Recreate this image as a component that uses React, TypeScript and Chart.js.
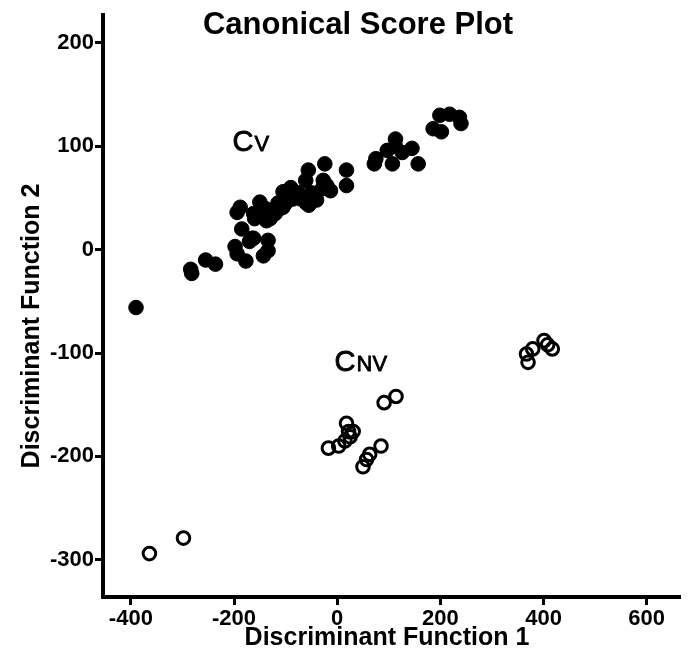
import React, { useEffect, useRef } from "react";
import { Chart, registerables } from "chart.js";

Chart.register(...registerables);

// Cv group (filled circles)
const cvX = [-390, -284, -282, -255, -236, -198, -194, -194, -188, -185, -177, -162, -160, -150, -143, -134, -134, -137, -124, -105, -105, -90, -86, -70, -56, -61, -55, -42, -29, -24, -27, -13, 18, 18, 72, 75, 107, 157, 97, 113, 126, 145, 113, 186, 202, 199, 218, 237, 240, -162, -120, -110, -100, -80, -60, -50, -40, -140, -150, -130, -95, -75, -20, -170, -115, -165];
const cvY = [-56, -19, -23, -10, -14, 3, -4, 36, 41, 20, -11, 11, 30, 46, -6, 9, -1, 28, 38, 41, 56, 60, 49, 49, 77, 67, 43, 52, 59, 83, 67, 57, 77, 62, 83, 88, 83, 83, 96, 107, 94, 98, 100, 117, 114, 130, 131, 128, 122, 35, 35, 40, 45, 52, 45, 55, 48, 40, 33, 30, 48, 55, 62, 8, 45, 11];

// CNV group (open circles)
const cnvX = [91, 114, 18, 31, 25, 15, 3, -17, 85, 63, 57, 50, 22, 367, 370, 379, 401, 408, 417, -364, -298];
const cnvY = [-148, -142, -168, -176, -181, -185, -190, -192, -190, -198, -203, -210, -176, -101, -109, -96, -88, -92, -96, -294, -279];

const xTicks = [-400, -200, 0, 200, 400, 600];
const yTicks = [-300, -200, -100, 0, 100, 200];

const chartTitle = "Canonical Score Plot";
const xTitle = "Discriminant Function 1";
const yTitle = "Discriminant Function 2";

const FONT = "'Liberation Sans', Arial, sans-serif";

const textPlugin = {
  id: "textPlugin",
  afterDraw(chart: any) {
    const ctx = chart.ctx;
    const xs = chart.scales.x;
    const ys = chart.scales.y;
    ctx.save();
    ctx.fillStyle = "#000";
    ctx.textBaseline = "alphabetic";
    // title
    ctx.font = `bold 31px ${FONT}`;
    ctx.textAlign = "center";
    ctx.fillText(chartTitle, 358, 34);
    // x title
    ctx.font = `bold 25px ${FONT}`;
    ctx.fillText(xTitle, 387, 645);
    // y title
    ctx.save();
    ctx.translate(39, 326);
    ctx.rotate(-Math.PI / 2);
    ctx.fillText(yTitle, 0, 0);
    ctx.restore();
    // group labels
    ctx.textAlign = "left";
    const drawLabel = (big: string, small: string, dx: number, dy: number) => {
      const px = xs.getPixelForValue(dx);
      const py = ys.getPixelForValue(dy);
      ctx.font = `29px ${FONT}`;
      ctx.fillText(big, px, py);
      ctx.lineWidth = 0.8;
      ctx.strokeStyle = "#000";
      ctx.strokeText(big, px, py);
      const w = ctx.measureText(big).width;
      ctx.font = `22px ${FONT}`;
      ctx.fillText(small, px + w + 1, py);
      ctx.strokeText(small, px + w + 1, py);
    };
    drawLabel("C", "V", -203, 95);
    drawLabel("C", "NV", -5, -117);
    ctx.restore();
  },
};

export default function App() {
  const ref = useRef<HTMLCanvasElement>(null);
  useEffect(() => {
    if (!ref.current) return;
    const cv = cvX.map((x, i) => ({ x, y: cvY[i] }));
    const cnv = cnvX.map((x, i) => ({ x, y: cnvY[i] }));
    const tickFont = { family: FONT, size: 22, weight: "bold" as const };
    const chart = new Chart(ref.current, {
      type: "scatter",
      data: {
        datasets: [
          {
            label: "Cv",
            data: cv,
            pointRadius: 7.3,
            pointBackgroundColor: "#000",
            pointBorderColor: "#000",
            pointBorderWidth: 1,
          },
          {
            label: "CNV",
            data: cnv,
            pointRadius: 6.3,
            pointBackgroundColor: "rgba(0,0,0,0)",
            pointBorderColor: "#000",
            pointBorderWidth: 3,
          },
        ],
      },
      options: {
        animation: false,
        responsive: false,
        maintainAspectRatio: false,
        layout: { padding: { top: 15, right: 0, left: 0, bottom: 0 } },
        plugins: {
          legend: { display: false },
          tooltip: { enabled: false },
          title: { display: false },
        },
        scales: {
          x: {
            type: "linear",
            min: -454,
            max: 664,
            afterBuildTicks: (s: any) => {
              s.ticks = xTicks.map((v) => ({ value: v }));
            },
            afterFit: (s: any) => {
              s.height = 61;
            },
            grid: {
              display: true,
              drawOnChartArea: false,
              drawTicks: true,
              tickLength: 8,
              lineWidth: 3,
              color: "#000",
            },
            border: { display: true, width: 4, color: "#000" },
            ticks: { color: "#000", font: tickFont, padding: 1, maxRotation: 0 },
          },
          y: {
            type: "linear",
            min: -336,
            max: 227,
            afterBuildTicks: (s: any) => {
              s.ticks = yTicks.map((v) => ({ value: v }));
            },
            afterFit: (s: any) => {
              s.width = 103;
            },
            grid: {
              display: true,
              drawOnChartArea: false,
              drawTicks: true,
              tickLength: 8,
              lineWidth: 3,
              color: "#000",
            },
            border: { display: true, width: 4, color: "#000" },
            ticks: { color: "#000", font: tickFont, padding: 1 },
          },
        },
      },
      plugins: [textPlugin],
    });
    return () => chart.destroy();
  }, []);
  return (
    <div style={{ position: "fixed", left: 0, top: 0, width: 689, height: 658, background: "#fff" }}>
      <canvas ref={ref} width={689} height={658} style={{ width: 689, height: 658, display: "block" }} />
    </div>
  );
}
